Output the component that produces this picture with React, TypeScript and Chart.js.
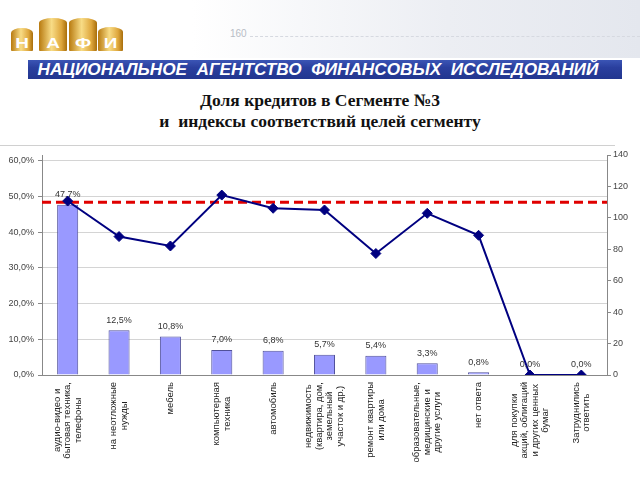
import React, { useEffect, useRef } from "react";
import { Chart, registerables } from "chart.js";

Chart.register(...registerables);

// ---------- data ----------
const CATEGORIES: string[][] = [
  ["аудио-видео и", "бытовая техника,", "телефоны"],
  ["на неотложные", "нужды"],
  ["мебель"],
  ["компьютерная", "техника"],
  ["автомобиль"],
  ["недвижимость", "(квартира, дом,", "земельный", "участок и др.)"],
  ["ремонт квартиры", "или дома"],
  ["образовательные,", "медицинские и", "другие услуги"],
  ["нет ответа"],
  ["для покупки", "акций, облигаций", "и других ценных", "бумаг"],
  ["Затруднились", "ответить"],
];
const SHARE: number[] = [47.7, 12.5, 10.8, 7.0, 6.8, 5.7, 5.4, 3.3, 0.8, 0.0, 0.0];
const INDEX: number[] = [110.7, 88.1, 82.1, 114.5, 106.1, 105.0, 77.3, 102.9, 88.9, 0, 0];
const INDEX_THRESHOLD = 110;
const SHARE_TICKS: number[] = [0, 10, 20, 30, 40, 50, 60];
const INDEX_TICKS: number[] = [0, 20, 40, 60, 80, 100, 120, 140];

const TITLE_LINES = ["Доля кредитов в Сегменте №3", "и  индексы соответствий целей сегменту"];
const BAND_TEXT = "НАЦИОНАЛЬНОЕ  АГЕНТСТВО  ФИНАНСОВЫХ  ИССЛЕДОВАНИЙ";
const LOGO_LETTERS = ["Н", "А", "Ф", "И"];

const fmtPct = (v: number) => v.toFixed(1).replace(".", ",") + "%";

const thresholdPlugin = {
  id: "threshold",
  beforeDatasetsDraw(chart: any) {
    const { ctx, chartArea } = chart;
    const y = chart.scales.y1.getPixelForValue(INDEX_THRESHOLD);
    ctx.save();
    ctx.strokeStyle = "#e00000";
    ctx.lineWidth = 3;
    ctx.setLineDash([9, 5]);
    ctx.beginPath();
    ctx.moveTo(chartArea.left, y);
    ctx.lineTo(chartArea.right, y);
    ctx.stroke();
    ctx.restore();
  },
};

const labelsPlugin = {
  id: "customLabels",
  afterDatasetsDraw(chart: any) {
    const { ctx } = chart;
    const xs = chart.scales.x;
    const ys = chart.scales.y;
    ctx.save();
    ctx.font = "9px Arial";
    ctx.fillStyle = "#333";
    ctx.textAlign = "center";
    ctx.textBaseline = "middle";
    SHARE.forEach((v, i) => {
      const x = xs.getPixelForValue(i);
      const y = ys.getPixelForValue(v);
      ctx.fillText(fmtPct(v), x, y - 10);
    });
    // category labels, rotated
    ctx.font = "9.5px Arial";
    ctx.fillStyle = "#222";
    CATEGORIES.forEach((lines, i) => {
      const x = xs.getPixelForValue(i);
      const maxW = Math.max(...lines.map((l) => ctx.measureText(l).width));
      const cy = xs.top + 7 + maxW / 2;
      ctx.save();
      ctx.translate(x, cy);
      ctx.rotate(-Math.PI / 2);
      lines.forEach((l, j) => ctx.fillText(l, 0, (j - (lines.length - 1) / 2) * 10.5));
      ctx.restore();
    });
    ctx.restore();
  },
};

function ChartCanvas() {
  const ref = useRef<HTMLCanvasElement | null>(null);
  useEffect(() => {
    if (!ref.current) return;
    const chart = new Chart(ref.current, {
      type: "bar",
      data: {
        labels: CATEGORIES.map((l) => l.join(" ")),
        datasets: [
          {
            type: "line",
            data: INDEX,
            yAxisID: "y1",
            borderColor: "#000080",
            backgroundColor: "#000080",
            borderWidth: 2,
            pointStyle: "rectRot",
            pointRadius: 5,
            pointBorderWidth: 1,
            tension: 0,
            order: 0,
          } as any,
          {
            type: "bar",
            data: SHARE,
            yAxisID: "y",
            backgroundColor: "#9999ff",
            borderColor: "#50509a",
            borderWidth: 1,
            categoryPercentage: 1,
            barPercentage: 0.41,
            order: 1,
          } as any,
        ],
      },
      options: {
        responsive: false,
        animation: false,
        devicePixelRatio: 1,
        layout: { padding: { top: 155, left: 0, right: 0, bottom: 0 } },
        plugins: { legend: { display: false }, tooltip: { enabled: false } },
        scales: {
          x: {
            grid: { display: false, drawTicks: false },
            border: { display: true, color: "#888" },
            ticks: { display: false },
            afterFit: (s: any) => {
              s.height = 105;
            },
          },
          y: {
            position: "left",
            min: 0,
            max: 61.6,
            afterBuildTicks: (s: any) => {
              s.ticks = SHARE_TICKS.map((v) => ({ value: v }));
            },
            ticks: {
              font: { size: 9, family: "Arial" },
              color: "#444",
              padding: 4,
              callback: (v: any) => fmtPct(Number(v)),
            },
            grid: { color: "#d4d4d4", tickColor: "#888", tickLength: 4, drawTicks: true },
            border: { display: true, color: "#888" },
            afterFit: (s: any) => {
              s.width = 42;
            },
          },
          y1: {
            position: "right",
            min: 0,
            max: 140,
            afterBuildTicks: (s: any) => {
              s.ticks = INDEX_TICKS.map((v) => ({ value: v }));
            },
            ticks: { font: { size: 9, family: "Arial" }, color: "#444", padding: 2 },
            grid: { drawOnChartArea: false, tickColor: "#888", tickLength: 4 },
            border: { display: true, color: "#888" },
            afterFit: (s: any) => {
              s.width = 33;
            },
          },
        },
      },
      plugins: [thresholdPlugin, labelsPlugin],
    });
    return () => chart.destroy();
  }, []);
  return (
    <canvas
      ref={ref}
      width={640}
      height={480}
      style={{ position: "absolute", left: 0, top: 0, width: 640, height: 480 }}
    />
  );
}

export default function App() {
  const logoBoxes = [
    { left: 11, top: 28, width: 22 },
    { left: 39, top: 18, width: 28 },
    { left: 69, top: 18, width: 28 },
    { left: 98, top: 27, width: 25 },
  ];
  return (
    <div
      style={{
        position: "fixed",
        left: 0,
        top: 0,
        width: 640,
        height: 480,
        background: "#fff",
        overflow: "hidden",
        fontFamily: "Arial, 'Liberation Sans', sans-serif",
      }}
    >
      {/* faint header background */}
      <div
        style={{
          position: "absolute",
          left: 0,
          top: 0,
          width: 640,
          height: 58,
          background: "linear-gradient(to right, #ffffff 30%, #eceef3 70%, #e4e7ee 100%)",
        }}
      />
      <div style={{ position: "absolute", left: 230, top: 28, fontSize: 10, color: "#b8bcc6" }}>160</div>
      <div style={{ position: "absolute", left: 250, top: 36, width: 390, height: 0, borderTop: "1px dashed #d6d9e0" }} />
      {/* logo */}
      {logoBoxes.map((b, i) => (
        <div
          key={i}
          style={{
            position: "absolute",
            left: b.left,
            top: b.top,
            width: b.width,
            height: 51 - b.top,
            borderRadius: "50% 50% 1px 1px / 5px 5px 1px 1px",
            background: "linear-gradient(to right, #b87a10, #f8dc86 45%, #dea63c 80%, #a86e0c)",
          }}
        >
          <div
            style={{
              position: "absolute",
              left: 0,
              right: 0,
              bottom: 1,
              textAlign: "center",
              color: "#fff",
              fontWeight: "bold",
              fontSize: 14,
              lineHeight: "14px",
              transform: "scaleX(1.35)",
            }}
          >
            {LOGO_LETTERS[i]}
          </div>
        </div>
      ))}
      {/* blue band */}
      <div
        style={{
          position: "absolute",
          left: 28,
          top: 60,
          width: 594,
          height: 19,
          background: "linear-gradient(#3b55b5, #2a3f9e 40%, #22368f)",
        }}
      />
      <div
        style={{
          position: "absolute",
          left: 18,
          top: 60,
          width: 600,
          height: 19,
          color: "#fff",
          fontWeight: "bold",
          fontStyle: "italic",
          fontSize: 16,
          lineHeight: "19px",
          textAlign: "center",
          whiteSpace: "pre",
          transform: "scaleX(1.075)",
        }}
      >
        {BAND_TEXT}
      </div>
      {/* title */}
      <div
        style={{
          position: "absolute",
          left: 0,
          top: 90,
          width: 640,
          textAlign: "center",
          fontFamily: "'Liberation Serif', 'Times New Roman', serif",
          fontWeight: "bold",
          fontSize: 17.5,
          lineHeight: "21px",
          color: "#111",
          whiteSpace: "pre",
        }}
      >
        {TITLE_LINES[0]}
        {"\n"}
        {TITLE_LINES[1]}
      </div>
      {/* frame line */}
      <div style={{ position: "absolute", left: 0, top: 145, width: 615, height: 1, background: "#d0d0d0" }} />
      <ChartCanvas />
    </div>
  );
}
